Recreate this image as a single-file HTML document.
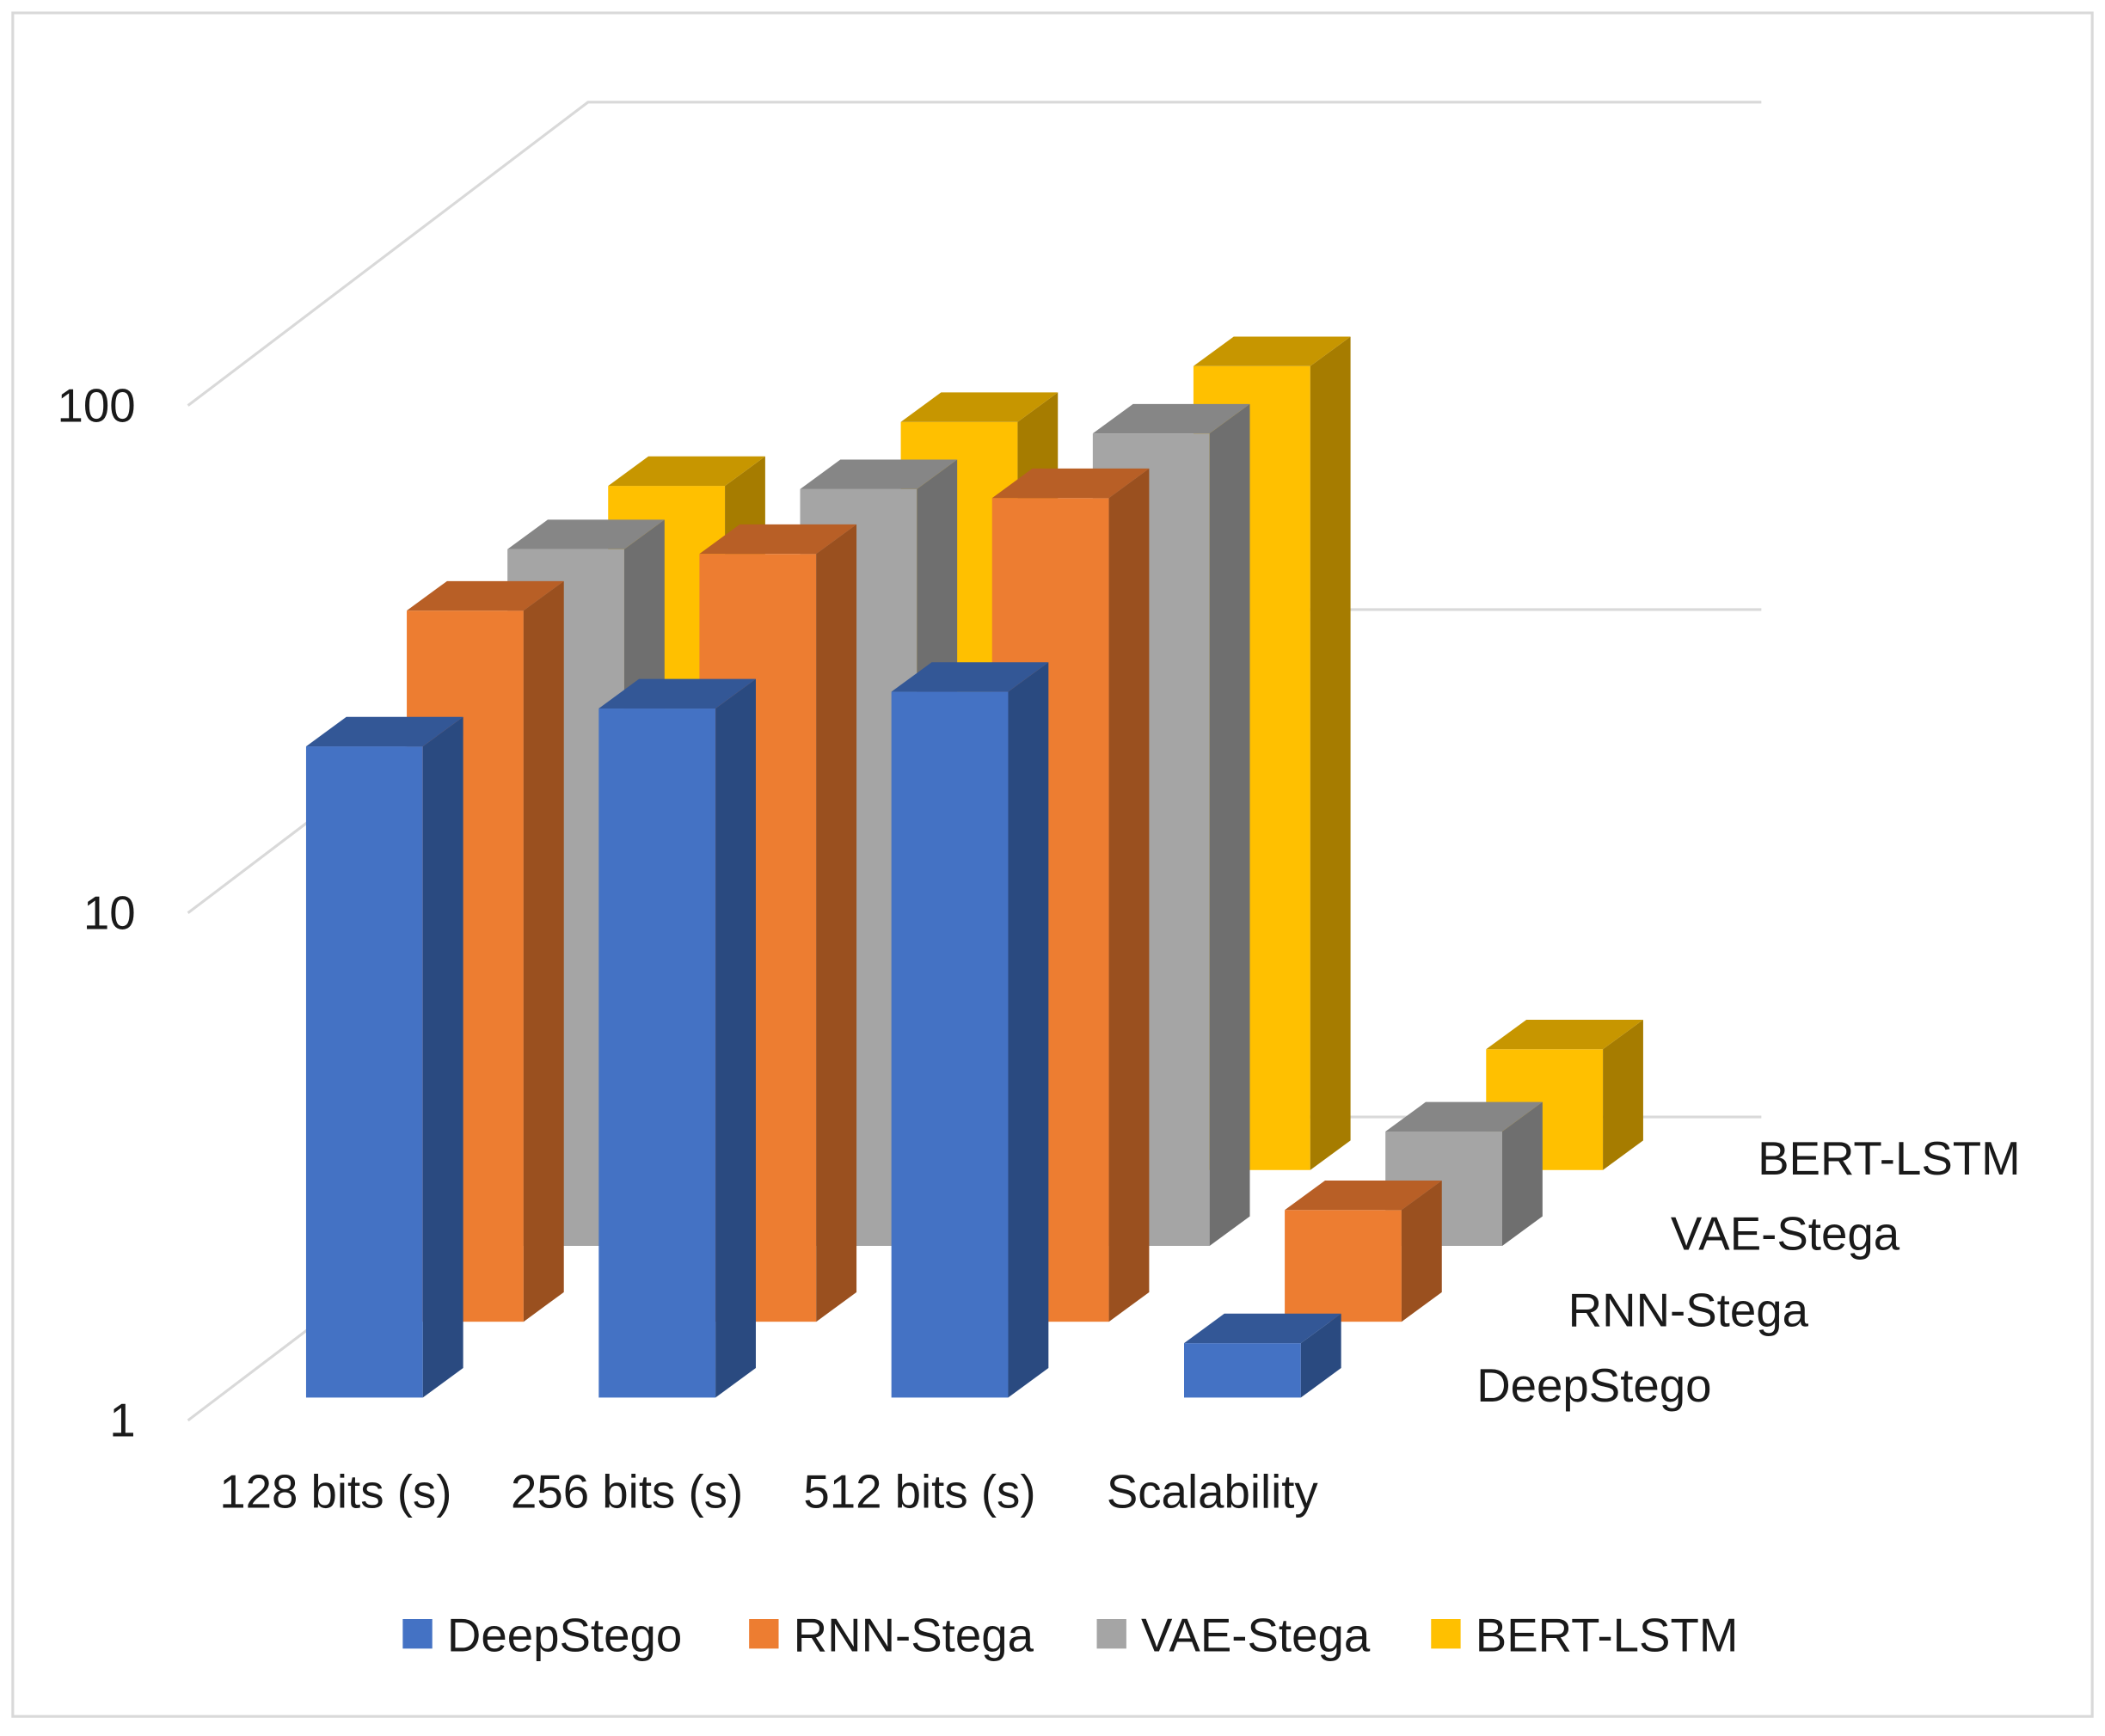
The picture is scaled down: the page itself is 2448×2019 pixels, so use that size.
<!DOCTYPE html>
<html><head><meta charset="utf-8"><style>
html,body{margin:0;padding:0;background:#fff}
svg{display:block}
text{font-family:"Liberation Sans",sans-serif;fill:#1a1a1a}
</style></head><body>
<svg id="chart" width="2448" height="2019" viewBox="0 0 1568 1293" xmlns="http://www.w3.org/2000/svg">
<rect x="9.5" y="9.5" width="1549" height="1269" fill="#fff" stroke="#d9d9d9" stroke-width="2"/>
<g id="grid"></g>
<g id="bars"></g>
<g id="labels"></g>
</svg>
<script>
const categories = ["128 bits (s)", "256 bits (s)", "512 bits (s)", "Scalability"];
const seriesNames = ["DeepStego", "RNN-Stega", "VAE-Stega", "BERT-LSTM"];
const deepStego = [19.2, 22.8, 24.6, 1.28];
const rnnStega = [25.2, 32.6, 42, 1.66];
const vaeStega = [23.6, 31, 39.9, 1.68];
const bertLstm = [22.3, 29.8, 38.4, 1.73];
const yTicks = [1, 10, 100];
const yTickLabels = ["1", "10", "100"];

const NS = "http://www.w3.org/2000/svg";
const series = [deepStego, rnnStega, vaeStega, bertLstm];
const colors = [
  ["#4472c4", "#2a4a80", "#335796"],
  ["#ed7d31", "#9a501f", "#b85f26"],
  ["#a5a5a5", "#6f6f6f", "#868686"],
  ["#ffc000", "#a67c00", "#c79600"]
];
const decade = 378;
function yOf(v, row) { return 1041 - 56.5 * row - Math.log10(v) * decade; }
function xOf(cat, row) { return 228 + 218 * cat + 75 * row; }
const barW = 87, dX = 30, dY = 22;
const FS = 35;

function el(tag, attrs, parent) {
  const e = document.createElementNS(NS, tag);
  for (const k in attrs) e.setAttribute(k, attrs[k]);
  parent.appendChild(e);
  return e;
}
const grid = document.getElementById("grid");
const bars = document.getElementById("bars");
const labels = document.getElementById("labels");

yTicks.forEach((t, i) => {
  const fy = 1058 - Math.log10(t) * decade;
  const l = el("polyline", {points: `140,${fy} 438,${fy - 226} 1312,${fy - 226}`, fill: "none", stroke: "#d9d9d9", "stroke-width": 2}, grid);
  
  
  const tx = el("text", {x: 101, y: fy + 12, "text-anchor": "end", "font-size": FS}, labels);
  tx.textContent = yTickLabels[i];
  
  
});
{
  const fy = 1058 - 3 * decade;
  const l = el("polyline", {points: `140,${fy} 438,${fy - 226} 1312,${fy - 226}`, fill: "none", stroke: "#d9d9d9", "stroke-width": 2}, grid);
  
  
}

for (let r = series.length - 1; r >= 0; r--) {
  for (let c = 0; c < categories.length; c++) {
    const v = series[r][c];
    const x = xOf(c, r), yb = 1041 - 56.5 * r, yt = yOf(v, r);
    const g = el("g", {}, bars);
    
    
    el("rect", {x: x, y: yt, width: barW, height: yb - yt, fill: colors[r][0]}, g);
    el("polygon", {points: `${x + barW},${yt} ${x + barW + dX},${yt - dY} ${x + barW + dX},${yb - dY} ${x + barW},${yb}`, fill: colors[r][1]}, g);
    el("polygon", {points: `${x},${yt} ${x + dX},${yt - dY} ${x + barW + dX},${yt - dY} ${x + barW},${yt}`, fill: colors[r][2]}, g);
  }
}

const catX = [250, 467, 685, 903];
categories.forEach((c, i) => {
  const t = el("text", {x: catX[i], y: 1123, "text-anchor": "middle", "font-size": FS}, labels);
  t.textContent = c;
  
  
});
const serX = [1275, 1347, 1415, 1505], serY = [1044, 988, 931, 875];
seriesNames.forEach((s, i) => {
  const t = el("text", {x: serX[i], y: serY[i], "text-anchor": "end", "font-size": FS}, labels);
  t.textContent = s;
  
  
});
const legX = [300, 558, 817, 1066];
seriesNames.forEach((s, i) => {
  const g = el("g", {}, labels);
  
  
  el("rect", {x: legX[i], y: 1206, width: 22, height: 22, fill: colors[i][0]}, g);
  const t = el("text", {x: legX[i] + 33, y: 1230, "font-size": FS}, g);
  t.textContent = s;
});
</script>
</body></html>
